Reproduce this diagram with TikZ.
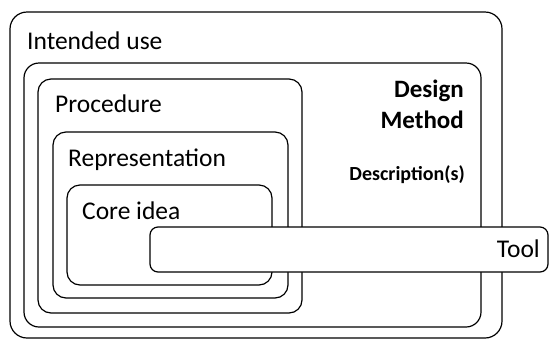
\documentclass[tikz,border=0pt]{standalone}
\usepackage{fontspec}
\setmainfont{Carlito}
\begin{document}
\begin{tikzpicture}[x=1pt,y=-1pt,
  frame/.style={draw=black,line width=1.2pt,rounded corners=#1},
  frame/.default=13pt,
  lbl/.style={font=\fontsize{25.5}{30}\selectfont,inner sep=0pt,anchor=base west}]
\useasboundingbox (0,0) rectangle (549,341);
\draw[frame=17pt] (10,12) rectangle (502,338);
\draw[frame=15pt] (24,63) rectangle (481,327);
\draw[frame=13pt] (38,79) rectangle (302,313);
\draw[frame=13pt] (53,132) rectangle (288,298);
\draw[frame=13pt] (67,185) rectangle (272,285);
\draw[frame=8pt,fill=white] (150,227) rectangle (548,272);
\node[lbl] (iu) at (27,49) {Intended use};
\node[lbl] (pr) at (55,112) {Procedure};
\node[lbl] (re) at (68,166) {Representation};
\node[lbl] (ci) at (82,219) {Core idea};
\node[lbl,anchor=base east] (to) at (540,257) {Tool};
\node[font=\fontsize{25}{31}\selectfont\bfseries,align=right,inner sep=0pt,anchor=base east] (dm) at (464,128) {Design\\Method};
\node[font=\fontsize{20}{24}\selectfont\bfseries,inner sep=0pt,anchor=base east] (ds) at (465,180) {Description(s)};
\end{tikzpicture}
\end{document}
